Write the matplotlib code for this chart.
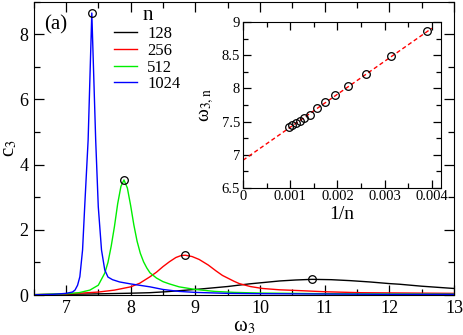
import numpy as np
import matplotlib
matplotlib.use('Agg')
from matplotlib import pyplot as plt
from matplotlib.ticker import MultipleLocator

plt.rcParams['font.family'] = ['Liberation Serif', 'DejaVu Serif']
plt.rcParams['mathtext.fontset'] = 'stix'

# main panel: c_3 vs omega_3 for each n
w_128 = [6.5, 7.0, 7.5, 8.0, 8.29, 8.55, 9.06, 9.5, 9.83, 10.04, 10.3, 10.55, 10.805,
         11.1, 11.4, 11.7, 12.0, 12.16, 12.5, 13.0]
c_128 = [0.01, 0.02, 0.035, 0.055, 0.07, 0.1, 0.18, 0.26, 0.34, 0.38, 0.43, 0.46, 0.48,
         0.47, 0.44, 0.4, 0.35, 0.33, 0.27, 0.2]

w_256 = [6.5, 7.0, 7.5, 7.75, 8.0, 8.14, 8.3, 8.4, 8.5, 8.6, 8.7, 8.78, 8.846, 8.95,
         9.06, 9.2, 9.32, 9.42, 9.52, 9.6, 9.68, 9.85, 10.04, 10.3, 10.55, 11.0, 11.57,
         12.3, 13.0]
c_256 = [0.01, 0.03, 0.09, 0.15, 0.25, 0.36, 0.56, 0.7, 0.87, 1.02, 1.15, 1.21, 1.22, 1.18,
         1.09, 0.92, 0.74, 0.6, 0.5, 0.42, 0.35, 0.26, 0.2, 0.16, 0.14, 0.1, 0.07,
         0.06, 0.05]

w_512 = [6.5, 7.0, 7.2, 7.37, 7.5, 7.6, 7.65, 7.7, 7.75, 7.8, 7.85, 7.897, 7.95, 8.0,
         8.05, 8.1, 8.15, 8.2, 8.25, 8.3, 8.4, 8.5, 8.6, 8.75, 9.0, 9.3, 9.6, 10.0,
         11.0, 12.0, 13.0]
c_512 = [0.01, 0.04, 0.07, 0.15, 0.3, 0.67, 1.0, 1.5, 2.1, 2.8, 3.33, 3.53, 3.28, 2.75,
         2.15, 1.65, 1.28, 1.02, 0.83, 0.68, 0.52, 0.41, 0.34, 0.25, 0.17, 0.11, 0.08, 0.06,
         0.04, 0.03, 0.025]

w_1024 = [6.5, 6.8, 7.0, 7.1, 7.14, 7.18, 7.215, 7.257, 7.29, 7.343, 7.40, 7.46, 7.50,
          7.55, 7.60, 7.65, 7.72, 7.83, 8.0, 8.3, 8.5, 8.75, 9.0, 9.5, 10.0, 11.0, 12.0, 13.0]
c_1024 = [0.005, 0.02, 0.05, 0.09, 0.15, 0.3, 0.56, 1.38, 2.71, 4.75, 8.65, 4.75, 2.71,
          1.38, 0.77, 0.55, 0.47, 0.4, 0.34, 0.25, 0.17, 0.11, 0.08, 0.05, 0.04, 0.03, 0.02, 0.02]

# peak positions (circles)
peak_w = [10.805, 8.846, 7.897, 7.40]
peak_c = [0.48, 1.22, 3.53, 8.65]

# inset: peak position vs 1/n
inset_n = [256, 320, 384, 448, 512, 576, 640, 704, 768, 832, 896, 960, 1024]
inset_w = [8.861, 8.484, 8.221, 8.042, 7.908, 7.799, 7.710, 7.600, 7.546, 7.506,
           7.471, 7.442, 7.412]
fit_x = [0.0, 0.004]
fit_y = [6.915, 8.91]

fig = plt.figure(figsize=(4.63, 3.35), dpi=100)
ax = fig.add_axes([33.6 / 463, 1 - 295 / 335, (454 - 33.6) / 463, (295 - 1.6) / 335])

ax.plot(w_128, c_128, color='black', lw=1.0, label='128')
ax.plot(w_256, c_256, color='#ff0000', lw=1.0, label='256')
ax.plot(w_512, c_512, color='#00ee00', lw=1.0, label='512')
ax.plot(w_1024, c_1024, color='#0000ff', lw=1.0, label='1024')
ax.plot(peak_w, peak_c, 'o', ms=5.5, mfc='none', mec='black', mew=0.9)

ax.set_xlim(6.5, 13)
ax.set_ylim(0, 9)
ax.xaxis.set_major_locator(MultipleLocator(1))
ax.xaxis.set_minor_locator(MultipleLocator(0.5))
ax.yaxis.set_major_locator(MultipleLocator(2))
ax.yaxis.set_minor_locator(MultipleLocator(1))
ax.tick_params(which='both', direction='in', top=True, right=True, labelsize=13, width=0.9)
ax.tick_params(which='major', length=7)
ax.tick_params(which='minor', length=4)
ax.set_xlabel('ω$_3$', fontsize=15, labelpad=0)
ax.set_ylabel('c$_3$', fontsize=15, labelpad=0)
ax.text(6.67, 8.3, '(a)', fontsize=15, va='center')

leg = ax.legend(loc='upper left', bbox_to_anchor=(114 / 463, 1 - 6 / 335),
                bbox_transform=fig.transFigure, frameon=False, fontsize=12,
                title='n', title_fontsize=15, handlelength=1.4, handletextpad=0.6,
                labelspacing=0.05, borderpad=0, borderaxespad=0)

# inset
axi = fig.add_axes([243 / 463, 1 - 187.7 / 335, (441.3 - 243) / 463, (187.7 - 22.3) / 335])
axi.plot(fit_x, fit_y, '--', color='#ff0000', lw=1.0, dashes=(3, 2))
axi.plot([1.0 / n for n in inset_n], inset_w, 'o', ms=5.5, mfc='none', mec='black', mew=0.9)
axi.set_xlim(0, 0.0042)
axi.set_ylim(6.5, 9)
axi.set_xticks([0, 0.001, 0.002, 0.003, 0.004])
axi.set_xticklabels(['0', '0.001', '0.002', '0.003', '0.004'])
axi.set_yticks([6.5, 7, 7.5, 8, 8.5, 9])
axi.set_yticklabels(['6.5', '7', '7.5', '8', '8.5', '9'])
axi.xaxis.set_minor_locator(MultipleLocator(0.0005))
axi.yaxis.set_minor_locator(MultipleLocator(0.25))
axi.tick_params(which='both', direction='in', top=True, right=True, labelsize=10.5, width=0.9)
axi.tick_params(which='major', length=6, pad=2)
axi.tick_params(which='minor', length=3.5)
axi.set_xlabel('1/n', fontsize=14, labelpad=2)
axi.set_ylabel('ω$_{3,\\mathrm{n}}$', fontsize=14, labelpad=4)

fig.savefig('out.png', dpi=100)
